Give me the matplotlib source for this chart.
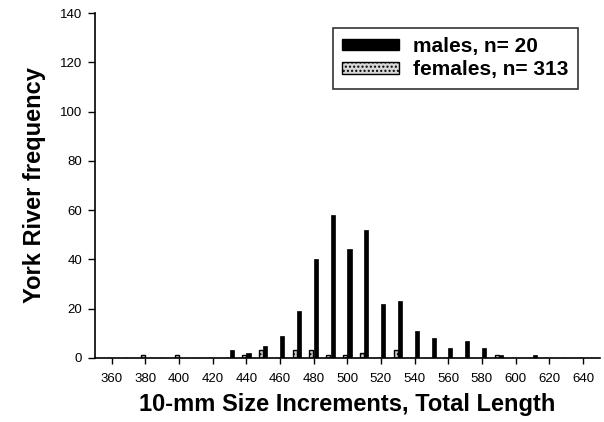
import numpy as np
import matplotlib
matplotlib.use("Agg")
import matplotlib.pyplot as plt
from matplotlib.patches import Patch

plt.rcParams['font.family'] = ['Liberation Sans', 'DejaVu Sans']

# 10-mm size bins (total length, mm)
bins = np.arange(360, 650, 10)

# counts (light bars sum to 20, black bars to 313)
males = {380: 1, 400: 1, 440: 1, 450: 3, 470: 3, 480: 3, 490: 1,
         500: 1, 510: 2, 530: 3, 590: 1}
females = {430: 3, 440: 2, 450: 5, 460: 9, 470: 19, 480: 40, 490: 58,
           500: 44, 510: 52, 520: 22, 530: 23, 540: 11, 550: 8, 560: 4,
           570: 7, 580: 4, 590: 1, 610: 1}

male_counts = np.array([males.get(b, 0) for b in bins])
female_counts = np.array([females.get(b, 0) for b in bins])

fig = plt.figure(figsize=(6.04, 4.22), dpi=100)
ax = fig.add_axes([0.157, 0.152, 0.836, 0.817])

w = 2.4
ax.bar(bins - 1.3, male_counts, width=w, color='#cccccc', edgecolor='black',
       linewidth=1.0, hatch='....')
ax.bar(bins + 1.3, female_counts, width=w, color='black', edgecolor='black',
       linewidth=0.5)

ax.set_xlim(350, 650)
ax.set_ylim(0, 140)
ax.set_xticks(np.arange(360, 641, 20))
ax.set_yticks(np.arange(0, 141, 20))
ax.tick_params(axis='x', direction='out', length=4, width=1, labelsize=9.5, pad=7)
ax.tick_params(axis='y', direction='out', length=5, width=1, labelsize=9.5, pad=4)
for s in ['top', 'right']:
    ax.spines[s].set_visible(False)
for s in ['left', 'bottom']:
    ax.spines[s].set_linewidth(1.2)

ax.set_xlabel('10-mm Size Increments, Total Length', fontsize=17,
              fontweight='bold', labelpad=6)
ax.set_ylabel('York River frequency', fontsize=17, fontweight='bold',
              labelpad=10)

handles = [Patch(facecolor='black', edgecolor='black'),
           Patch(facecolor='#d8d8d8', edgecolor='black', hatch='....')]
leg = fig.legend(handles, ['males, n= 20', 'females, n= 313'],
                 loc='upper right', bbox_to_anchor=(0.957, 0.934),
                 borderaxespad=0, prop={'weight': 'bold', 'size': 15},
                 frameon=True, fancybox=False, edgecolor='black',
                 handlelength=2.7, handleheight=0.45, borderpad=0.45,
                 labelspacing=0.2, handletextpad=0.7)
leg.get_frame().set_linewidth(1.2)

fig.savefig('out.png', dpi=100)
